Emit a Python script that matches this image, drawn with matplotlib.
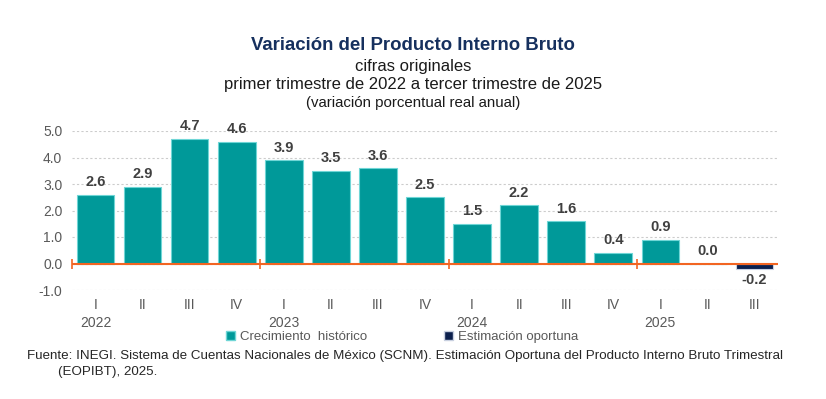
import matplotlib
matplotlib.use("Agg")
import matplotlib.pyplot as plt
from matplotlib.patches import Patch
from matplotlib import font_manager

quarters = ["I", "II", "III", "IV", "I", "II", "III", "IV", "I", "II", "III", "IV", "I", "II", "III"]
years = ["2022", "2023", "2024", "2025"]
values = [2.6, 2.9, 4.7, 4.6, 3.9, 3.5, 3.6, 2.5, 1.5, 2.2, 1.6, 0.4, 0.9, 0.0, -0.2]
is_estimate = [False] * 14 + [True]
yticks = [-1.0, 0.0, 1.0, 2.0, 3.0, 4.0, 5.0]

names = {f.name for f in font_manager.fontManager.ttflist}
base = "Liberation Sans" if "Liberation Sans" in names else "DejaVu Sans"
narrow = "Liberation Sans Narrow" if "Liberation Sans Narrow" in names else base
plt.rcParams["font.family"] = [base, "DejaVu Sans"]

teal = "#009999"
navy = "#0b1f4d"
gray = "#595959"
lab = "#404040"

fig = plt.figure(figsize=(8.26, 3.99), dpi=100)
ax = fig.add_axes([72 / 826, 1 - 290 / 399, (778 - 72) / 826, (290 - 131) / 399])

x = list(range(len(values)))
colors = [navy if e else teal for e in is_estimate]
edges = ["#c8d0e0" if e else "#6fd6d6" for e in is_estimate]
ax.bar(x, values, width=0.8, color=colors, edgecolor=edges, linewidth=0.8, zorder=3)

for xi, v in zip(x, values):
    if v < 0:
        ax.annotate(f"{v:.1f}", (xi, v), xytext=(0, -3), textcoords="offset points",
                    ha="center", va="top", fontsize=10.5, fontweight="bold", color=lab)
    else:
        ax.annotate(f"{v:.1f}", (xi, v), xytext=(0, 4), textcoords="offset points",
                    ha="center", va="bottom", fontsize=10.5, fontweight="bold", color=lab)

ax.set_xlim(-0.5, len(values) - 0.5)
ax.set_ylim(-1.0, 5.0)
ax.set_yticks(yticks)
ax.set_yticklabels([f"{t:.1f}" for t in yticks], fontsize=10, color=gray)
ax.grid(axis="y", linestyle=(0, (2, 2)), color="#cccccc", linewidth=0.8, zorder=0)
ax.set_axisbelow(True)
for s in ax.spines.values():
    s.set_visible(False)
ax.tick_params(axis="y", length=0, pad=7)
ax.tick_params(axis="x", length=0, pad=6)
ax.set_xticks(x)
ax.set_xticklabels(quarters, fontsize=10, color=gray)

# zero line with year separators
ax.axhline(0, color="#f26522", linewidth=1.5, zorder=4)
ax.plot([-0.5, 3.5, 7.5, 11.5], [0, 0, 0, 0], linestyle="none", marker="|",
        markersize=7, markeredgewidth=1.2, color="#f26522", zorder=4, clip_on=False)

# years under first quarter of each year
for i, yr in enumerate(years):
    ax.text(i * 4, -0.165, yr, transform=ax.get_xaxis_transform(), ha="center", va="top",
            fontsize=10, color=gray)

fig.text(0.5, 1 - 45 / 399, "Variación del Producto Interno Bruto", ha="center", va="center",
         fontsize=13.4, fontweight="bold", color="#16305e")
fig.text(0.5, 1 - 66 / 399, "cifras originales", ha="center", va="center", fontsize=12, color="#1a1a1a")
fig.text(0.5, 1 - 85 / 399, "primer trimestre de 2022 a tercer trimestre de 2025", ha="center",
         va="center", fontsize=12, color="#1a1a1a")
fig.text(0.5, 1 - 103 / 399, "(variación porcentual real anual)", ha="center", va="center",
         fontsize=10.8, color="#1a1a1a")

handles = [Patch(facecolor=teal, edgecolor="#6fd6d6", label="Crecimiento  histórico"),
           Patch(facecolor=navy, edgecolor="#c8d0e0", label="Estimación oportuna")]
leg = fig.legend(handles=handles, loc="center", bbox_to_anchor=(402 / 826, 1 - 337 / 399), ncol=2,
                 frameon=False, fontsize=9.5, handlelength=0.7, handleheight=0.7, handletextpad=0.4,
                 columnspacing=5.8, borderpad=0)
for t in leg.get_texts():
    t.set_color(gray)

fig.text(27 / 826, 1 - 356 / 399,
         "Fuente: INEGI. Sistema de Cuentas Nacionales de México (SCNM). Estimación Oportuna del Producto Interno Bruto Trimestral",
         ha="left", va="center", fontsize=9.6, color="#262626", family=[narrow, "DejaVu Sans"])
fig.text(58 / 826, 1 - 372 / 399, "(EOPIBT), 2025.", ha="left", va="center", fontsize=9.6,
         color="#262626", family=[narrow, "DejaVu Sans"])

fig.savefig("out.png", dpi=100)
